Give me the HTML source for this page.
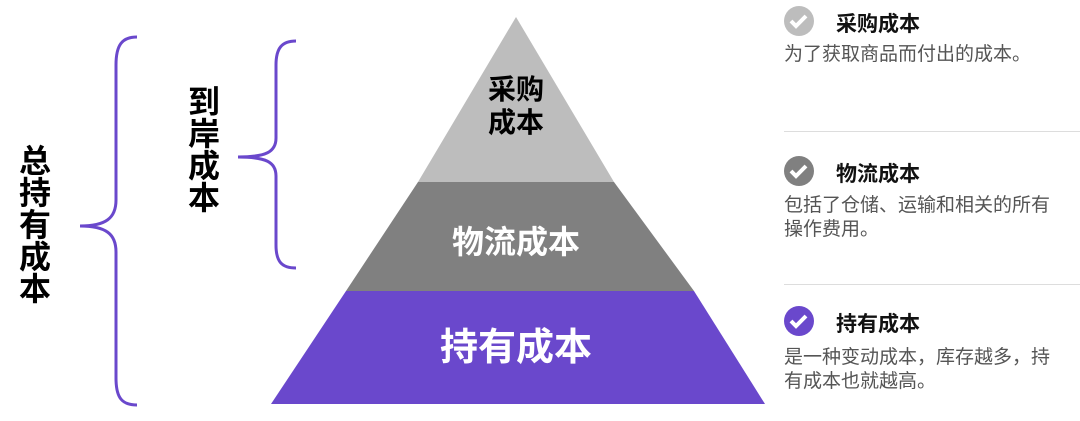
<!DOCTYPE html>
<html><head><meta charset="utf-8"><style>
body{margin:0;width:1080px;height:421px;background:#fff;overflow:hidden;position:relative;font-family:"Liberation Sans","Noto Sans CJK SC",sans-serif}
.t{position:absolute;white-space:nowrap}
.v{position:absolute;font-weight:bold;font-size:32px;line-height:32px;width:36px;text-align:center;color:#000}
.h{font-size:21px;font-weight:bold;color:#111}
.d{font-size:19px;color:#555;line-height:24px}
</style></head><body>
<svg width="1080" height="421" style="position:absolute;left:0;top:0">
<polygon points="516,17 614,182 418,182" fill="#bdbdbd"/>
<polygon points="418,182 614,182 694,291 346,291" fill="#808080"/>
<polygon points="346,291 694,291 765,404 271,404" fill="#6a48cc"/>
<path d="M137,37 C122,37 116,45 116,65 L116,200 C116,218 106,226 80,226 C106,226 116,234 116,252 L116,378 C116,398 122,405 137,405" fill="none" stroke="#6a48cc" stroke-width="3"/>
<path d="M296,41 C282,41 276,48 276,65 L276,138 C276,152 266,157 238,157 C266,157 276,162 276,176 L276,245 C276,262 282,268 296,268" fill="none" stroke="#6a48cc" stroke-width="3"/>
<line x1="784" y1="131.5" x2="1080" y2="131.5" stroke="#ddd" stroke-width="1"/>
<line x1="784" y1="284.5" x2="1080" y2="284.5" stroke="#ddd" stroke-width="1"/>
<circle cx="799" cy="21" r="15" fill="#bdbdbd"/>
<path d="M791,21 l5,5 l10,-10" fill="none" stroke="#fff" stroke-width="4"/>
<circle cx="799" cy="171" r="15" fill="#808080"/>
<path d="M791,171 l5,5 l10,-10" fill="none" stroke="#fff" stroke-width="4"/>
<circle cx="799" cy="321" r="15" fill="#6a48cc"/>
<path d="M791,321 l5,5 l10,-10" fill="none" stroke="#fff" stroke-width="4"/>
</svg>
<div class="v" style="left:17px;top:145px">总<br>持<br>有<br>成<br>本</div>
<div class="v" style="left:186px;top:86px">到<br>岸<br>成<br>本</div>
<div class="t" style="left:456px;top:73px;width:120px;text-align:center;font-size:28px;font-weight:bold;line-height:33px;color:#000">采购<br>成本</div>
<div class="t" style="left:416px;top:222px;width:200px;text-align:center;font-size:32px;font-weight:bold;color:#fff;line-height:40px">物流成本</div>
<div class="t" style="left:391px;top:325px;width:250px;text-align:center;font-size:38px;font-weight:bold;color:#fff;line-height:46px">持有成本</div>
<div class="t h" style="left:836px;top:8px">采购成本</div>
<div class="t d" style="left:784px;top:43px">为了获取商品而付出的成本。</div>
<div class="t h" style="left:836px;top:158px">物流成本</div>
<div class="t d" style="left:784px;top:194px">包括了仓储、运输和相关的所有<br>操作费用。</div>
<div class="t h" style="left:836px;top:308px">持有成本</div>
<div class="t d" style="left:784px;top:346px">是一种变动成本，库存越多，持<br>有成本也就越高。</div>
</body></html>
